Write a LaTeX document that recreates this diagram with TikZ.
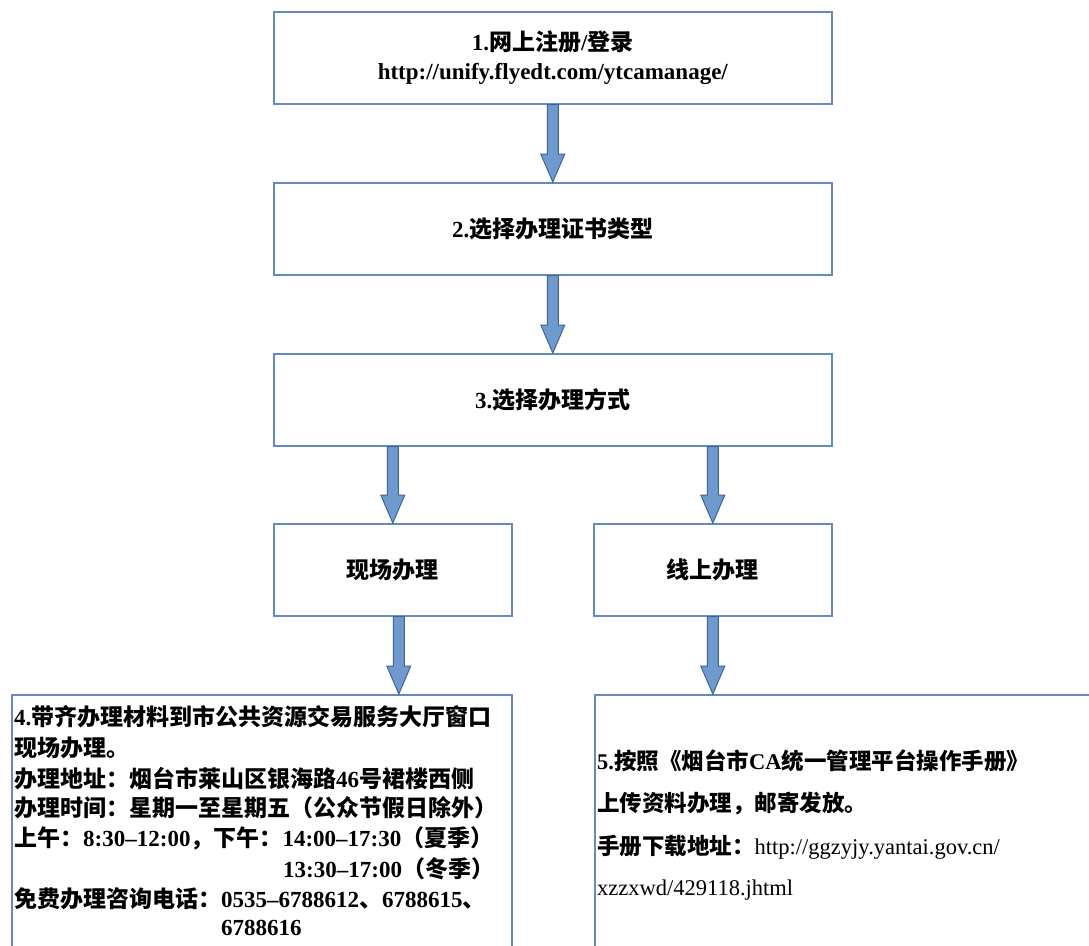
\documentclass[tikz,border=0pt]{standalone}
\usepackage{fontspec}
\setmainfont{Liberation Serif}
\newfontfamily\cjk{Noto Sans CJK SC}
\newcommand{\C}[1]{{\cjk #1}}
\usetikzlibrary{calc}
\definecolor{boxline}{RGB}{100,138,190}
\definecolor{arrowfill}{RGB}{112,153,206}
\definecolor{arrowline}{RGB}{62,100,155}
\tikzset{
  flowbox/.style={draw=boxline, line width=1.6pt, fill=white, minimum width=558pt,
    minimum height=92pt, anchor=north west, inner sep=0pt,
    font=\fontsize{23}{29}\selectfont\bfseries, align=center},
  smallbox/.style={flowbox, minimum width=238pt},
  openbox/.style={draw=boxline, line width=1.6pt, fill=white, anchor=north west,
    inner sep=0pt, minimum height=300pt},
  ltxt/.style={anchor=west, inner sep=0pt, font=\fontsize{23}{26}\selectfont\bfseries},
  rtxt/.style={anchor=west, inner sep=0pt, font=\fontsize{22.5}{26}\selectfont\bfseries},
  blockarrow/.style={fill=arrowfill, draw=arrowline, line width=1pt, line join=miter},
}
\newcommand{\barrow}[2]{%
  \draw[blockarrow] let \p1=(#1), \p2=(#2) in
    ({\x1-5.5pt},\y1) -- ({\x1+5.5pt},\y1) -- ({\x1+5.5pt},{\y2+28pt})
    -- ({\x1+12pt},{\y2+28pt}) -- (\x1,\y2) -- ({\x1-12pt},{\y2+28pt})
    -- ({\x1-5.5pt},{\y2+28pt}) -- cycle;}
\begin{document}
\begin{tikzpicture}[x=1pt,y=-1pt]
\useasboundingbox[fill=white] (0,0) rectangle (1089,945);
% boxes
\node[flowbox] (b1) at (273,11) {1.\C{网上注册}/\C{登录}\\http://unify.flyedt.com/ytcamanage/};
\node[flowbox] (b2) at (273,182) {2.\C{选择办理证书类型}};
\node[flowbox] (b3) at (273,353) {3.\C{选择办理方式}};
\node[smallbox] (bL) at (273,523) {\C{现场办理}};
\node[smallbox] (bR) at (593,523) {\C{线上办理}};
\node[openbox, minimum width=500pt] (b4) at (11,694) {};
\node[openbox, minimum width=520pt] (b5) at (594,694) {};
% arrows
\barrow{b1.south}{b2.north}
\barrow{b2.south}{b3.north}
\barrow{b3.south -| bL.north}{bL.north}
\barrow{b3.south -| bR.north}{bR.north}
\barrow{$(bL.south)+(6,0)$}{b4.north}
\barrow{bR.south}{b5.north}
% box 4 text
\node[ltxt] (l1) at (14,717) {4.\C{带齐办理材料到市公共资源交易服务大厅窗口}};
\node[ltxt] (l2) at (14,748) {\C{现场办理。}};
\node[ltxt] (l3) at (14,779) {\C{办理地址：烟台市莱山区银海路}46\C{号裙楼西侧}};
\node[ltxt] (l4) at (14,808) {\C{办理时间：星期一至星期五（公众节假日除外）}};
\node[ltxt] (l5) at (14,838) {\C{上午：}8:30–12:00\C{，下午：}14:00–17:30\C{（夏季）}};
\node[ltxt] (l6) at (283,869) {13:30–17:00\C{（冬季）}};
\node[ltxt] (l7) at (14,899) {\C{免费办理咨询电话：}0535–6788612\C{、}6788615\C{、}};
\node[ltxt] (l8) at (221,928) {6788616};
% box 5 text
\node[rtxt] (r1) at (597,761) {5.\C{按照《烟台市}CA\C{统一管理平台操作手册》}};
\node[rtxt] (r2) at (597,804) {\C{上传资料办理，邮寄发放。}};
\node[rtxt] (r3) at (597,847) {\C{手册下载地址：}\textmd{http://ggzyjy.yantai.gov.cn/}};
\node[rtxt] (r4) at (597,890) {\textmd{xzzxwd/429118.jhtml}};
\end{tikzpicture}
\end{document}
